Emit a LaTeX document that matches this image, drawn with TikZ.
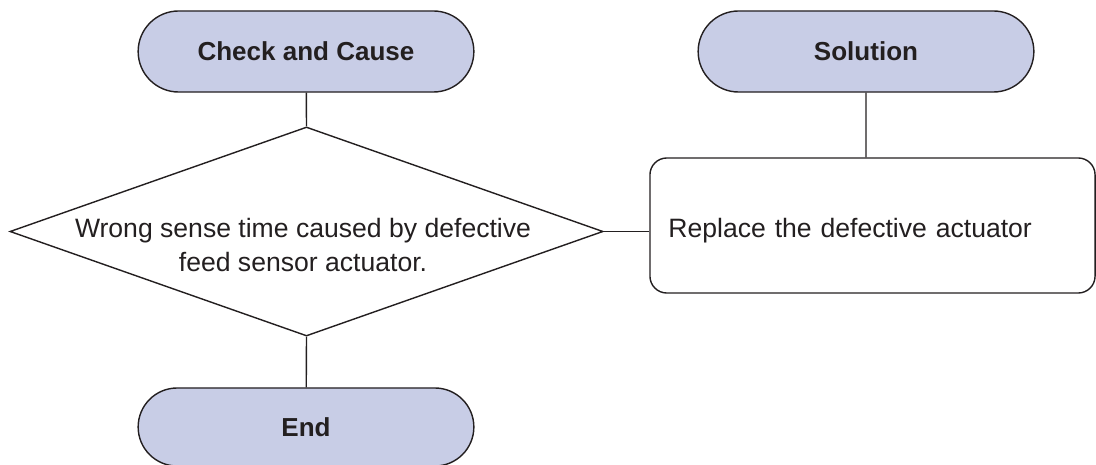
\documentclass[tikz,border=0pt]{standalone}
\usepackage{fontspec}
\setmainfont{Liberation Sans}
\usetikzlibrary{positioning,shapes.geometric,shapes.misc}
\definecolor{termfill}{RGB}{200,205,230}
\definecolor{inkgray}{RGB}{35,31,32}

\begin{document}
\begin{tikzpicture}[x=0.025cm,y=-0.025cm,line width=1pt,draw=inkgray,
 font=\fontsize{18.9}{24.5}\selectfont,text=inkgray,
 term/.style={draw,rounded rectangle,fill=termfill,minimum width=8.625cm,minimum height=2.025cm,font=\fontsize{18.5}{24}\selectfont\bfseries},
 decide/.style={draw,diamond,inner sep=0pt,minimum width=14.825cm,minimum height=5.225cm},
 fixbox/.style={draw,rounded corners=12pt,minimum width=11.125cm,minimum height=3.375cm,align=left,text width=10.2cm,text height=0.74cm,text depth=0.14cm},
 txt/.style={align=center,inner sep=0pt}]
\useasboundingbox (0,0) rectangle (1096,465);
\node[term] (chk) at (306,51.5) {Check and Cause};
\node[term] (sol) at (866,51.5) {Solution};
\node[decide] (cause) at (306.5,231.5) {};
\node[txt] (causetxt) at (303,245) {Wrong sense time caused by defective\\feed sensor actuator.};
\node[fixbox] (fix) at (872.5,225.5) {Replace the defective actuator};
\node[term,minimum height=1.95cm] (stop) at (306,427) {End};
\draw (chk) -- (cause.north);
\draw (cause.south) -- (stop);
\draw (cause.east) -- (cause.east -| fix.west);
\draw (sol) -- (fix.north -| sol);
\end{tikzpicture}
\end{document}
